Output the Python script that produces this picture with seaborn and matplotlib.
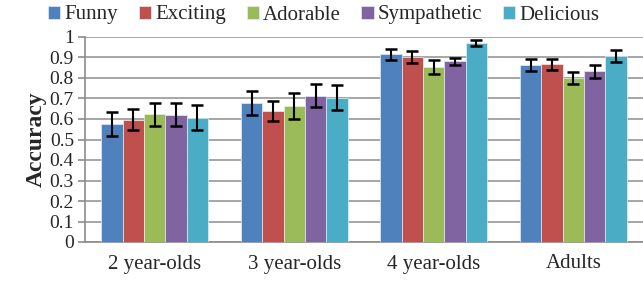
import numpy as np
import pandas as pd
import matplotlib
matplotlib.use("Agg")
import matplotlib.pyplot as plt
import seaborn as sns

# ==========================================
# Data
# ==========================================

groups = ["2 year-olds", "3 year-olds", "4 year-olds", "Adults"]
series = ["Funny", "Exciting", "Adorable", "Sympathetic", "Delicious"]
colors = ["#4F81BD", "#C0504D", "#9BBB59", "#8064A2", "#4BACC6"]

funny = [0.576, 0.678, 0.915, 0.862]
exciting = [0.597, 0.639, 0.902, 0.867]
adorable = [0.624, 0.663, 0.854, 0.802]
sympathetic = [0.621, 0.714, 0.881, 0.833]
delicious = [0.607, 0.704, 0.971, 0.907]

funny_err = [0.058, 0.058, 0.028, 0.029]
exciting_err = [0.050, 0.049, 0.028, 0.028]
adorable_err = [0.056, 0.062, 0.033, 0.029]
sympathetic_err = [0.056, 0.056, 0.018, 0.031]
delicious_err = [0.063, 0.060, 0.015, 0.029]

values = [funny, exciting, adorable, sympathetic, delicious]
errors = [funny_err, exciting_err, adorable_err, sympathetic_err, delicious_err]

rows = []
for s, vals, errs in zip(series, values, errors):
    for g, v, e in zip(groups, vals, errs):
        rows.append({"group": g, "series": s, "acc": v, "err": e})
df = pd.DataFrame(rows)

# ==========================================
# Plot
# ==========================================

sns.set_style("white")
plt.rcParams["font.family"] = ["Liberation Serif", "DejaVu Serif"]

fig = plt.figure(figsize=(6.43, 2.84), dpi=100)
ax = fig.add_axes([85 / 643, 42 / 284, 558 / 643, 205 / 284])

sns.barplot(data=df, x="group", y="acc", hue="series", order=groups,
            hue_order=series, palette=colors, saturation=1, width=0.765,
            gap=0, errorbar=None, edgecolor="#E4ECF4", linewidth=0.5, ax=ax,
            zorder=3)

# error bars at the bar centres
for cont, s in zip(ax.containers, series):
    sub = df[df["series"] == s].set_index("group").loc[groups]
    xs = [p.get_x() + p.get_width() / 2 for p in cont.patches]
    ax.errorbar(xs, sub["acc"], yerr=sub["err"], fmt="none", ecolor="black",
                elinewidth=1.5, capsize=4, capthick=1.8, zorder=4)

ax.set_ylim(0, 1)
ax.set_xlim(-0.5, 3.5)
ax.set_yticks(np.arange(0, 1.01, 0.1))
ax.set_yticklabels(["0", "0.1", "0.2", "0.3", "0.4", "0.5", "0.6", "0.7",
                    "0.8", "0.9", "1"])
ax.yaxis.grid(True, color="#A6A6A6", linewidth=1.4, zorder=0)
ax.set_axisbelow(True)

ax.set_xticks(range(len(groups)))
ax.set_xticklabels(groups)
ax.set_xticks(np.arange(-0.5, 3.6, 1), minor=True)
ax.tick_params(axis="x", which="major", length=0, labelsize=15, pad=9)
ax.tick_params(axis="x", which="minor", length=5, color="#8C8C8C", width=1.2)
ax.tick_params(axis="y", length=5, color="#8C8C8C", width=1.2, labelsize=14,
               pad=3, left=True)

for side in ["top", "right"]:
    ax.spines[side].set_visible(False)
for side in ["left", "bottom"]:
    ax.spines[side].set_color("#8C8C8C")
    ax.spines[side].set_linewidth(1.2)

ax.set_xlabel("")
ax.set_ylabel("Accuracy", fontsize=17, fontweight="bold", labelpad=2)

handles, labels = ax.get_legend_handles_labels()
ax.get_legend().remove()
fig.legend(handles, labels, loc="center left",
           bbox_to_anchor=(48 / 643, 1 - 15 / 284), ncol=5, frameon=False,
           prop={"family": ["Liberation Serif"], "size": 15},
           handlelength=0.58, handleheight=0.58,
           handletextpad=0.2, columnspacing=1.0, borderaxespad=0.0,
           borderpad=0.0)

plt.savefig("out.png", dpi=100)
plt.close()
